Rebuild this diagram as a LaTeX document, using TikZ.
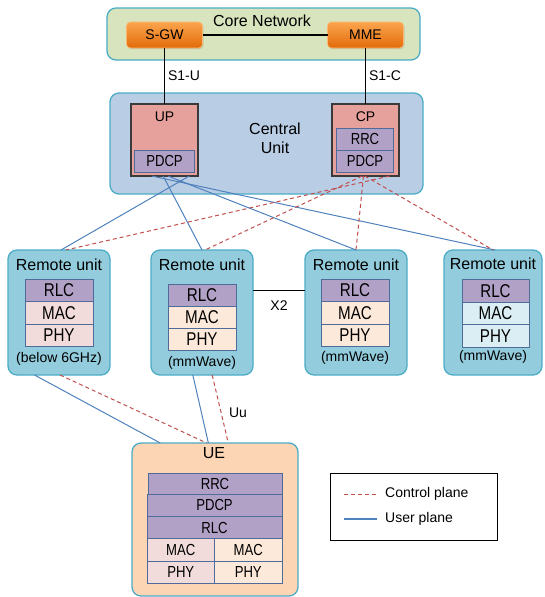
\documentclass[tikz,border=0pt]{standalone}
\usepackage{fontspec}
\setmainfont{Liberation Sans}
\newfontfamily\layerfont[FakeStretch=0.82]{Liberation Sans}
\usetikzlibrary{calc,shadows}

\definecolor{coreFill}{HTML}{D7E4BD}
\definecolor{frameTeal}{HTML}{4BACC6}
\definecolor{cuFill}{HTML}{B9CDE5}
\definecolor{ruFill}{HTML}{93CDDD}
\definecolor{ueFill}{HTML}{FCD5B5}
\definecolor{gwTop}{HTML}{FBA54E}
\definecolor{gwBot}{HTML}{E26B0A}
\definecolor{planeFill}{HTML}{E6A19C}
\definecolor{planeEdge}{HTML}{3A3A3A}
\definecolor{purpleL}{HTML}{B2A1C7}
\definecolor{layerEdge}{HTML}{4F6B9A}
\definecolor{pinkL}{HTML}{F2DCDB}
\definecolor{peachL}{HTML}{FDE9D9}
\definecolor{iceL}{HTML}{DBEEF4}
\definecolor{userBlue}{HTML}{4F81BD}
\definecolor{ctrlRed}{HTML}{C0504D}

\begin{document}
\begin{tikzpicture}[x=1pt,y=-1pt,
  box/.style={inner sep=0pt,outer sep=0pt},
  group/.style={box,draw=frameTeal,line width=1.3pt,rounded corners=9pt},
  gwbox/.style={box,rounded corners=4pt,top color=gwTop,bottom color=gwBot,draw=gwTop!80!white,
    line width=0.6pt,minimum width=76pt,minimum height=26pt,font=\fontsize{14}{16}\selectfont,
    drop shadow={opacity=0.25,shadow xshift=1pt,shadow yshift=-1.2pt}},
  planebox/.style={box,fill=planeFill,draw=planeEdge,line width=1.2pt,minimum width=67pt,minimum height=72pt},
  layer/.style={box,draw=layerEdge,line width=0.8pt,minimum width=68pt,minimum height=22.5pt,
    font=\layerfont\fontsize{18.5}{20}\selectfont},
  culayer/.style={box,draw=layerEdge,line width=0.8pt,fill=purpleL,minimum width=60pt,minimum height=22pt,
    font=\layerfont\fontsize{16}{18}\selectfont},
  uelayer/.style={box,draw=layerEdge,line width=0.8pt,minimum height=22.5pt,
    font=\layerfont\fontsize{16}{18}\selectfont},
  title/.style={font=\fontsize{16}{18}\selectfont,inner sep=0pt},
  small/.style={font=\fontsize{14}{16}\selectfont,inner sep=0pt},
  userline/.style={draw=userBlue,line width=1pt},
  ctrlline/.style={draw=ctrlRed,line width=1pt,dash pattern=on 4pt off 3pt},
  wire/.style={draw=black,line width=1.2pt}]

\useasboundingbox (0,0) rectangle (544,597);

% ---------- core network ----------
\node[group,fill=coreFill,minimum width=313pt,minimum height=52pt] (core) at (263.5,34) {};
\node[title] (coret) at (262,21) {Core Network};
\node[gwbox] (sgw) at (164.5,35) {S-GW};
\node[gwbox] (mme) at (365.5,35) {MME};
\draw[wire] (sgw.east) -- (mme.west);

% ---------- central unit ----------
\node[group,fill=cuFill,minimum width=313pt,minimum height=101pt] (cu) at (266.5,143.5) {};
\node[title,align=center] (cut) at (275,138) {Central\\[1pt]Unit};
\node[planebox] (up) at (164.5,140) {};
\node[small] (upt) at (164.5,117) {UP};
\node[culayer] (uppdcp) at (164.5,161) {PDCP};
\node[planebox] (cp) at (365.5,140) {};
\node[small] (cpt) at (365.5,117) {CP};
\node[culayer,minimum width=57pt] (cprrc) at (365,139) {RRC};
\node[culayer,minimum width=57pt] (cppdcp) at (365,161) {PDCP};

\draw[wire] (sgw.south) -- (up.north) node[small,pos=0.5,anchor=west,xshift=3pt] (s1u) {S1-U};
\draw[wire] (mme.south) -- (cp.north) node[small,pos=0.5,anchor=west,xshift=3pt] (s1c) {S1-C};

% ---------- remote units ----------
\node[group,fill=ruFill,minimum width=102pt,minimum height=125pt] (ru1) at (59,312.5) {};
\node[group,fill=ruFill,minimum width=102pt,minimum height=125pt] (ru2) at (202,312.5) {};
\node[group,fill=ruFill,minimum width=102pt,minimum height=125pt] (ru3) at (356,312.5) {};
\node[group,fill=ruFill,minimum width=98pt,minimum height=125pt] (ru4) at (493,312.5) {};

\node[title] (ru1t) at (59,265) {Remote unit};
\node[title] (ru2t) at (202,265) {Remote unit};
\node[title] (ru3t) at (356,265) {Remote unit};
\node[title] (ru4t) at (493,264) {Remote unit};

\node[layer,fill=purpleL] (ru1rlc) at (59,290.25) {RLC};
\node[layer,fill=pinkL,anchor=north] (ru1mac) at (ru1rlc.south) {MAC};
\node[layer,fill=pinkL,anchor=north] (ru1phy) at (ru1mac.south) {PHY};
\node[small] (ru1b) at (59,359) {(below 6GHz)};

\node[layer,fill=purpleL,minimum height=22pt] (ru2rlc) at (202,295) {RLC};
\node[layer,fill=peachL,minimum height=22pt,anchor=north] (ru2mac) at (ru2rlc.south) {MAC};
\node[layer,fill=peachL,minimum height=22pt,anchor=north] (ru2phy) at (ru2mac.south) {PHY};
\node[small] (ru2b) at (202,363) {(mmWave)};

\node[layer,fill=purpleL] (ru3rlc) at (355,290.25) {RLC};
\node[layer,fill=peachL,anchor=north] (ru3mac) at (ru3rlc.south) {MAC};
\node[layer,fill=peachL,anchor=north] (ru3phy) at (ru3mac.south) {PHY};
\node[small] (ru3b) at (355,358) {(mmWave)};

\node[layer,fill=purpleL,minimum width=67pt] (ru4rlc) at (495.5,290.75) {RLC};
\node[layer,fill=iceL,minimum width=67pt,anchor=north] (ru4mac) at (ru4rlc.south) {MAC};
\node[layer,fill=iceL,minimum width=67pt,anchor=north] (ru4phy) at (ru4mac.south) {PHY};
\node[small] (ru4b) at (493,357) {(mmWave)};

% X2 link between the two mmWave units
\draw[wire] (ru3rlc -| ru2.east) -- (ru3rlc -| ru3.west) node[small,pos=0.5,yshift=-15pt] (x2) {X2};

% ---------- UE ----------
\node[group,fill=ueFill,minimum width=166pt,minimum height=153pt] (ue) at (215,519.5) {};
\node[title] (uet) at (214,453) {UE};
\node[uelayer,fill=purpleL,minimum width=134pt,minimum height=21pt] (uerrc) at (215,483.5) {RRC};
\node[uelayer,fill=purpleL,minimum width=135pt,anchor=north] (uepdcp) at (214.5,494) {PDCP};
\node[uelayer,fill=purpleL,minimum width=135pt,anchor=north,minimum height=22pt] (uerlc) at (uepdcp.south) {RLC};
\node[uelayer,fill=pinkL,minimum width=67.5pt,anchor=north west] (uemac1) at (uerlc.south west) {MAC};
\node[uelayer,fill=peachL,minimum width=67.5pt,anchor=north east] (uemac2) at (uerlc.south east) {MAC};
\node[uelayer,fill=pinkL,minimum width=67.5pt,anchor=north,minimum height=22pt] (uephy1) at (uemac1.south) {PHY};
\node[uelayer,fill=peachL,minimum width=67.5pt,anchor=north,minimum height=22pt] (uephy2) at (uemac2.south) {PHY};

% ---------- fronthaul: user plane ----------
\draw[userline] ($(up.south west)!0.87!(up.south east)$) -- ($(ru1.north)+(2,0)$);
\draw[userline] ($(up.south west)!0.48!(up.south east)$) -- (ru2.north);
\draw[userline] ($(up.south west)!0.55!(up.south east)$) -- (ru3.north);
\draw[userline] ($(up.south west)!0.31!(up.south east)$) -- ($(ru4.north)+(2,0)$);

% ---------- fronthaul: control plane ----------
\draw[ctrlline] ($(cp.south west)!0.86!(cp.south east)$) -- ($(ru1.north)+(7,0)$);
\draw[ctrlline] ($(cp.south west)!0.45!(cp.south east)$) -- ($(ru2.north)+(3,0)$);
\draw[ctrlline] ($(cp.south west)!0.47!(cp.south east)$) -- (ru3.north);
\draw[ctrlline] ($(cp.south west)!0.49!(cp.south east)$) -- ($(ru4.north)+(0,0)$);

% ---------- air interface ----------
\draw[userline] ($(ru1.south west)!0.26!(ru1.south east)$) -- ($(ue.north west)!0.17!(ue.north east)$);
\draw[ctrlline] ($(ru1.south west)!0.51!(ru1.south east)$) -- ($(ue.north west)!0.45!(ue.north east)$);
\draw[userline] ($(ru2.south west)!0.41!(ru2.south east)$) -- ($(ue.north west)!0.46!(ue.north east)$);
\draw[ctrlline] ($(ru2.south west)!0.60!(ru2.south east)$) -- ($(ue.north west)!0.58!(ue.north east)$);
\node[small] (uu) at (238,413) {Uu};

% ---------- legend ----------
\node[box,draw=black,line width=0.8pt,minimum width=167pt,minimum height=67pt] (legend) at (413.5,506.5) {};
\coordinate (lc1) at (344,494);
\coordinate (lc2) at (377,494);
\coordinate (lu1) at (344,519);
\coordinate (lu2) at (377,519);
\draw[ctrlline] (lc1) -- (lc2);
\draw[userline,line width=1.4pt] (lu1) -- (lu2);
\node[small,anchor=west] (lct) at (385,494) {Control plane};
\node[small,anchor=west] (lut) at (385,519) {User plane};
\end{tikzpicture}
\end{document}
